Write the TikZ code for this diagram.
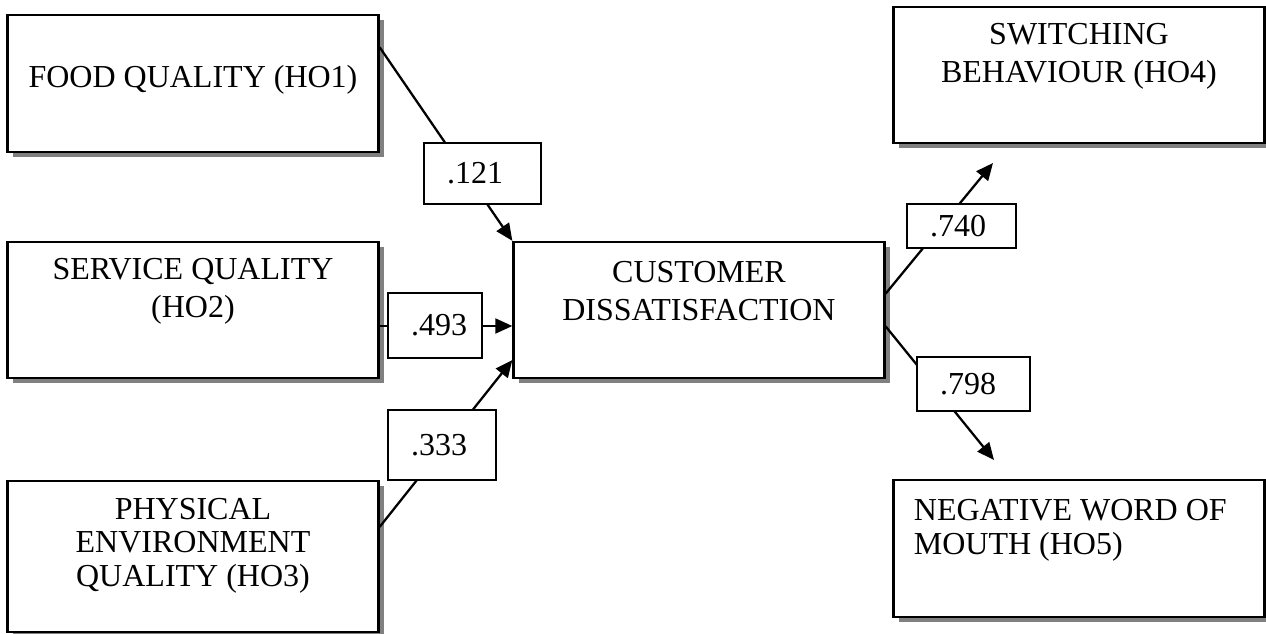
\documentclass[tikz,border=0pt]{standalone}
\usepackage{fontspec}
\setmainfont{Liberation Serif}
\usetikzlibrary{arrows.meta,positioning,calc,shadows}
\newlength\pxlen
\setlength\pxlen{0.375pt}
\definecolor{shadecol}{HTML}{808080}

\begin{document}
\begin{tikzpicture}[x=0.375pt, y=-0.375pt,
  font=\fontsize{12}{14.25}\selectfont,
  bigbox/.style={draw, line width=0.85pt, fill=white, inner sep=0pt,
    minimum width=371\pxlen, minimum height=#1\pxlen,
    drop shadow={shadow xshift=5\pxlen, shadow yshift=-5\pxlen,
      opacity=1, fill=shadecol}},
  bigbox/.default=136,
  boxtext/.style={align=center, inner sep=0pt},
  numbox/.style 2 args={draw, line width=0.8pt, fill=white,
    inner xsep=23\pxlen, inner ysep=0pt, align=left,
    text width={(#1-46)*0.375pt}, minimum height={#2*0.375pt}},
  link/.style={line width=0.85pt},
  arrow/.style={link, -{Triangle[length=6.4pt,width=5.6pt]}}]

\useasboundingbox (0,0) rectangle (1266,634);

% ---------------------------------------------------------------- boxes
\node[bigbox=137] (food) at (193,83.5) {};
\node[boxtext] (food-t) at ($(food)+(0,-3.5)$) {FOOD QUALITY (HO1)};

\node[bigbox] (serv) at (193,310) {};
\node[boxtext] (serv-t) at ($(serv)+(0,-19)$) {SERVICE QUALITY\\(HO2)};

\node[bigbox=151] (phys) at (193,556.5) {};
\node[boxtext, font=\fontsize{12}{12.6}\selectfont] (phys-t)
  at ($(phys)+(0,-11)$) {PHYSICAL\\ENVIRONMENT\\QUALITY (HO3)};

\node[bigbox] (cust) at (699,310) {};
\node[boxtext] (cust-t) at ($(cust)+(0,-19)$) {CUSTOMER\\DISSATISFACTION};

\node[bigbox] (switch) at (1079,75) {};
\node[boxtext] (switch-t) at ($(switch)+(0,-19)$) {SWITCHING\\BEHAVIOUR (HO4)};

\node[bigbox=137] (neg) at (1079,548.5) {};
\node[boxtext, align=left, anchor=west, font=\fontsize{12}{12.6}\selectfont]
  (neg-t) at ($(neg.west)+(21,-18)$) {NEGATIVE WORD OF\\MOUTH (HO5)};

% ---------------------------------------------------------- connectors
\coordinate (tip4) at (993,163);
\coordinate (tip5) at (994,460);

\draw[arrow] (food.11) -- (cust.north west);
\draw[arrow] (serv.east |- 0,326) -- (cust.west |- 0,326);
\draw[arrow] (phys.9.7) -- (cust.195);
\draw[arrow] (cust.5) -- (tip4);
\draw[arrow] (cust.-5) -- (tip5);

% ------------------------------------------------------ path estimates
\node[numbox={117}{61}] (lab121) at (482.5,173.5) {.121};
\node[numbox={94}{65}] (lab493) at (435,325.5) {.493};
\node[numbox={108}{70}] (lab333) at (442,445) {.333};
\node[numbox={109}{44}] (lab740) at (961.5,226) {.740};
\node[numbox={113}{54}] (lab798) at (973.5,384) {.798};

\end{tikzpicture}
\end{document}
